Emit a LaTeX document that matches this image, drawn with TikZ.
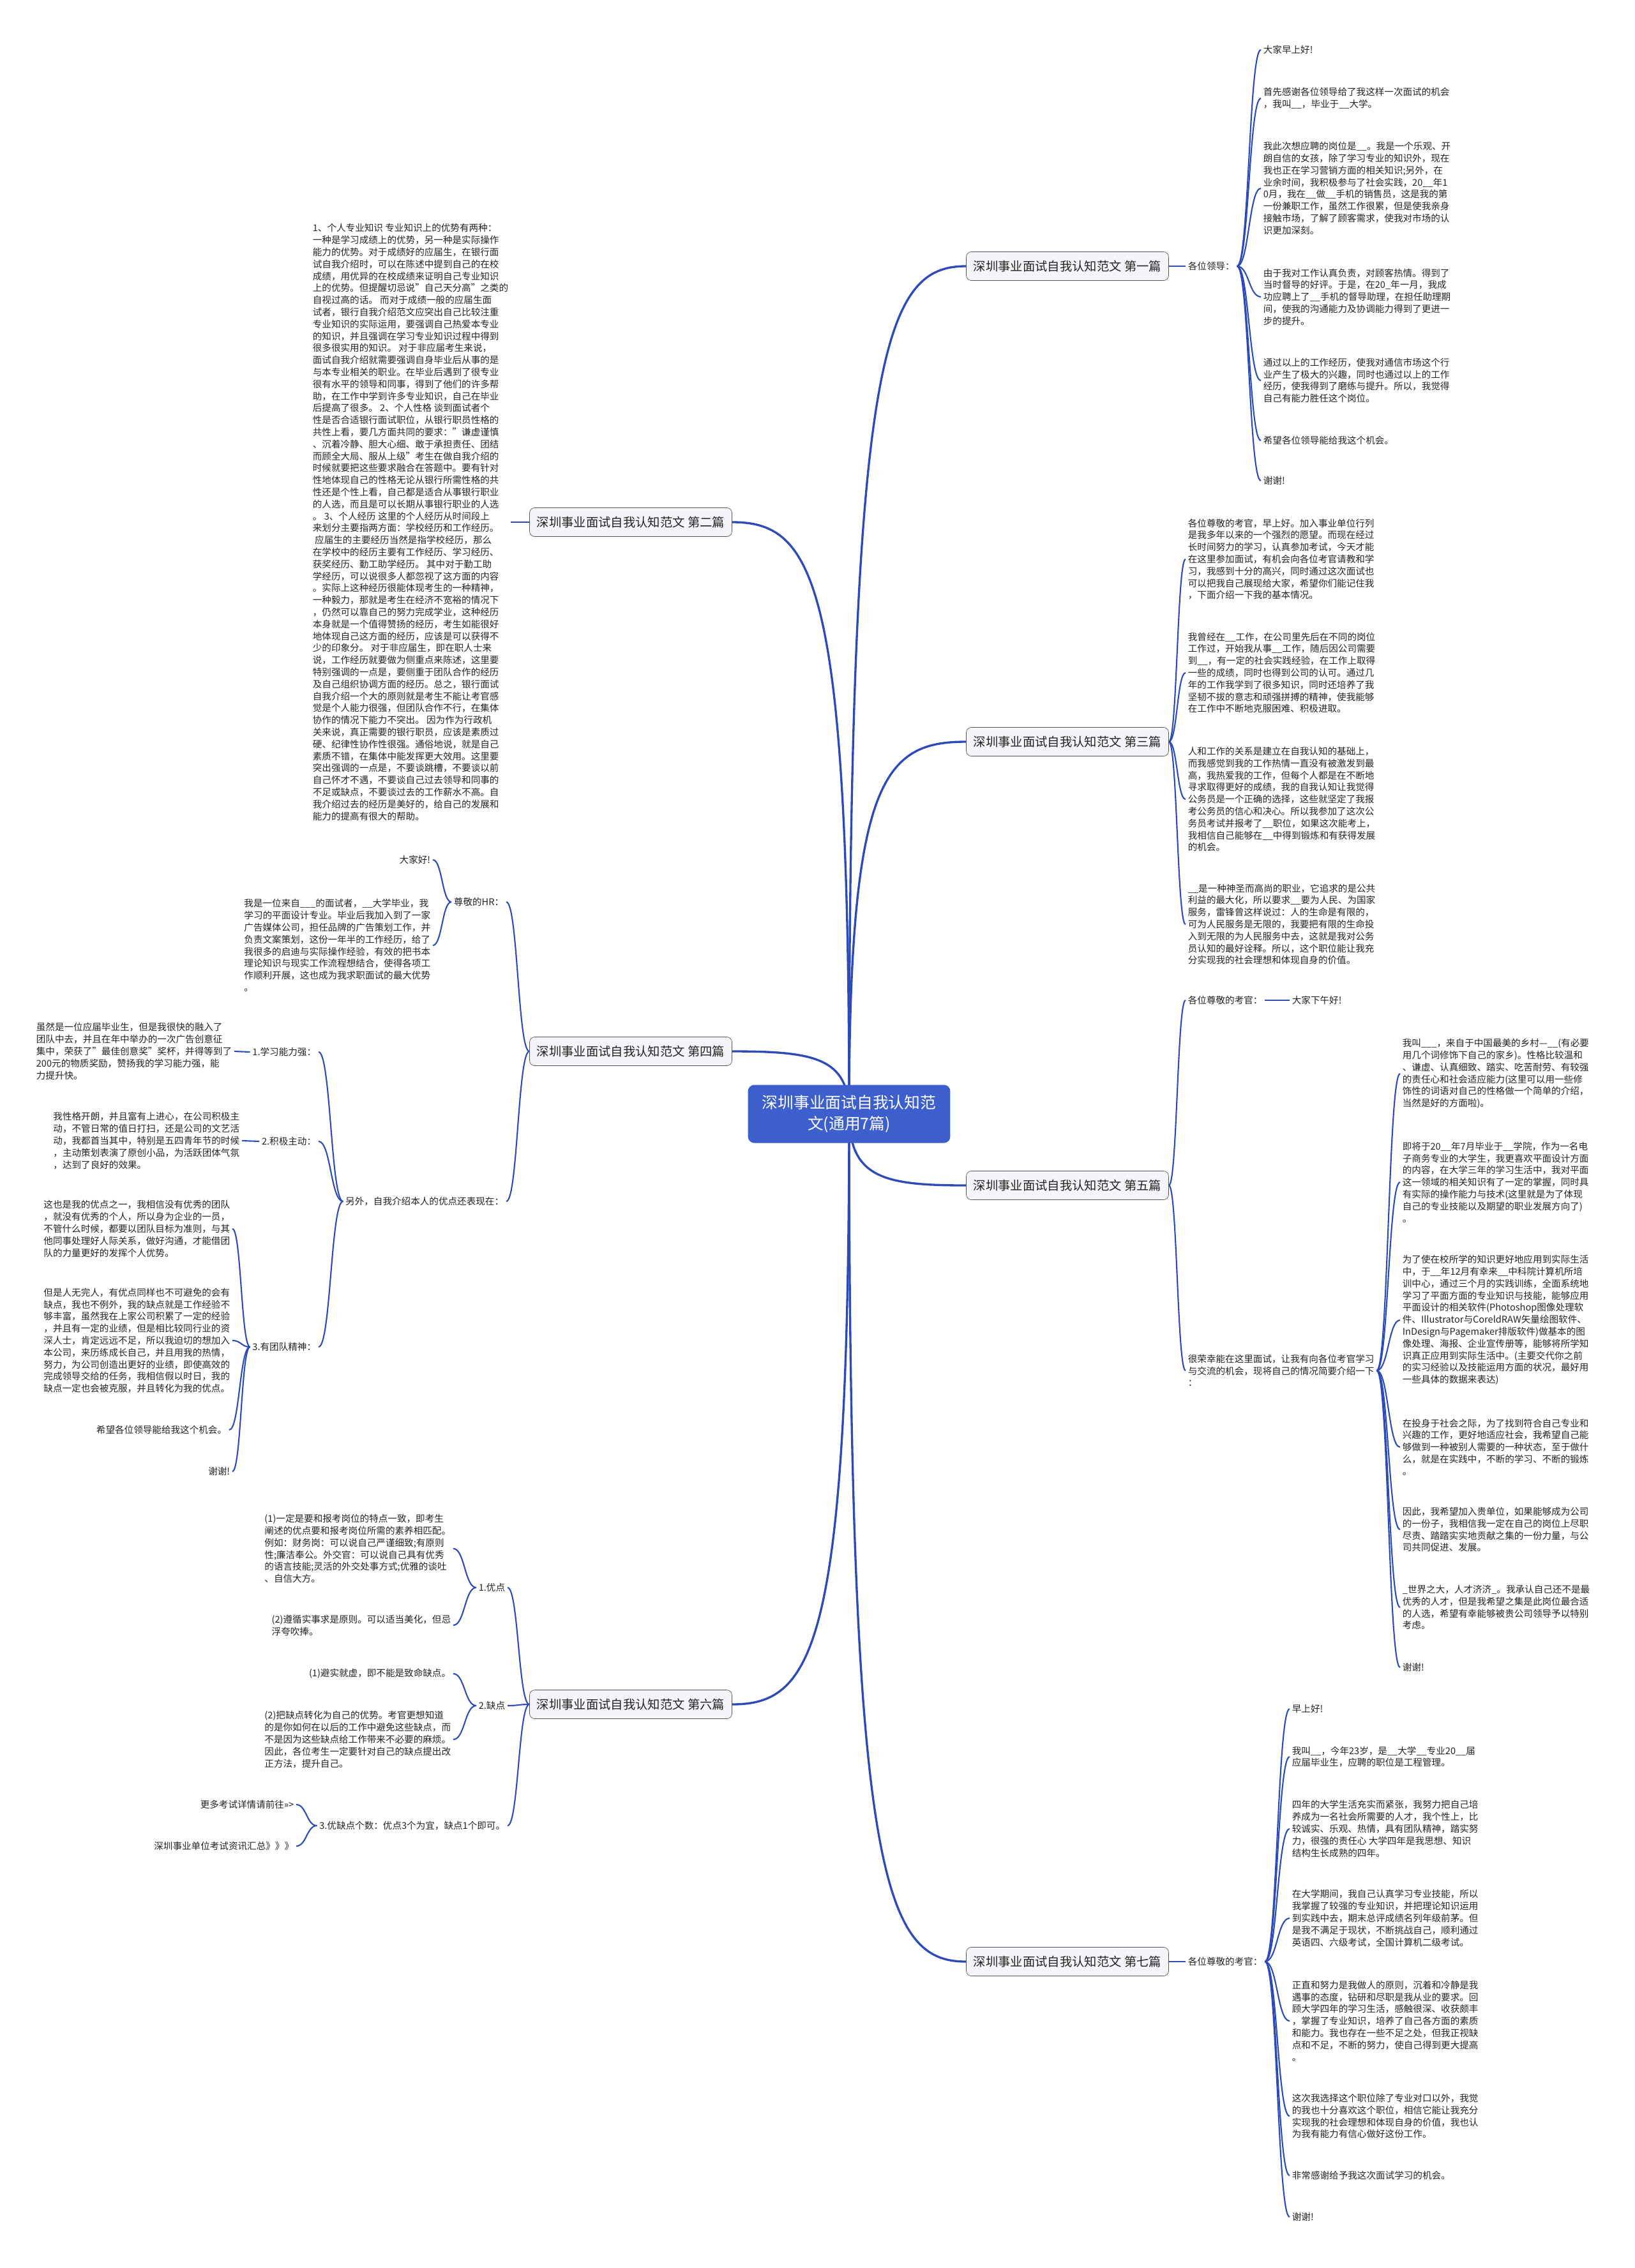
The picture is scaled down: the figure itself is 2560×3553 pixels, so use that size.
\documentclass[tikz,border=0pt]{standalone}
\usepackage{fontspec}
\setmainfont{Noto Sans CJK SC}
\usetikzlibrary{calc,backgrounds}

\definecolor{linkblue}{RGB}{44,74,184}
\definecolor{rootblue}{RGB}{60,95,205}
\definecolor{boxgray}{RGB}{85,85,85}
\definecolor{boxfill}{RGB}{243,245,248}
\definecolor{txtgray}{RGB}{35,35,35}

\begin{document}
\begin{tikzpicture}[x=0.02cm, y=-0.02cm,
  every node/.style={text=txtgray},
  rootbox/.style={fill=rootblue, text=white, rounded corners=0.2cm,
    minimum width=6.34cm, minimum height=1.82cm, align=center, font=\fontsize{14.1}{19.3}\selectfont},
  topic/.style={draw=boxgray, fill=boxfill, rounded corners=0.16cm, minimum width=6.34cm,
    minimum height=0.9cm, font=\fontsize{11}{13}\selectfont},
  leaf/.style={inner sep=2pt, align=left, font=\fontsize{8.3}{10.7}\selectfont},
  rtxt/.style={leaf, anchor=west},
  ltxt/.style={leaf, anchor=east},
  link/.style={draw=linkblue, line width=1.2pt, to path={let \p1=(\tikztostart), \p2=(\tikztotarget) in
    .. controls ({(\x1+\x2)/2},\y1) and ({(\x1+\x2)/2},\y2) .. (\tikztotarget)}},
  trunk/.style={draw=linkblue, line width=1.9pt, to path={let \p1=(\tikztostart), \p2=(\tikztotarget) in
    .. controls (\x1,{\y1+0.9*(\y2-\y1)}) and ({\x1+0.3*(\x2-\x1)},\y2) .. (\tikztotarget)}}]
\useasboundingbox (0,0) rectangle (2560,3553);

% Root
\node[rootbox] (root) at (1330,1745) {深圳事业面试自我认知范\\文(通用7篇)};

% Level 1
\node[topic] (p1) at (1672,417) {深圳事业面试自我认知范文 第一篇};
\node[topic] (p2) at (988,818) {深圳事业面试自我认知范文 第二篇};
\node[topic] (p3) at (1672,1162) {深圳事业面试自我认知范文 第三篇};
\node[topic] (p4) at (988,1647) {深圳事业面试自我认知范文 第四篇};
\node[topic] (p5) at (1672,1857) {深圳事业面试自我认知范文 第五篇};
\node[topic] (p6) at (988,2670) {深圳事业面试自我认知范文 第六篇};
\node[topic] (p7) at (1672,3073) {深圳事业面试自我认知范文 第七篇};

% Part 1
\node[rtxt] (k1) at (1857,417) {各位领导：};
\node[rtxt] (p1a) at (1975,78) {大家早上好!};
\node[rtxt] (p1b) at (1975,154) {首先感谢各位领导给了我这样一次面试的机会\\，我叫\_\_，毕业于\_\_大学。};
\node[rtxt] (p1c) at (1975,295) {我此次想应聘的岗位是\_\_。我是一个乐观、开\\朗自信的女孩，除了学习专业的知识外，现在\\我也正在学习营销方面的相关知识;另外，在\\业余时间，我积极参与了社会实践，20\_\_年1\\0月，我在\_\_做\_\_手机的销售员，这是我的第\\一份兼职工作，虽然工作很累，但是使我亲身\\接触市场，了解了顾客需求，使我对市场的认\\识更加深刻。};
\node[rtxt] (p1d) at (1975,465) {由于我对工作认真负责，对顾客热情。得到了\\当时督导的好评。于是，在20\_年一月，我成\\功应聘上了\_\_手机的督导助理，在担任助理期\\间，使我的沟通能力及协调能力得到了更进一\\步的提升。};
\node[rtxt] (p1e) at (1975,596) {通过以上的工作经历，使我对通信市场这个行\\业产生了极大的兴趣，同时也通过以上的工作\\经历，使我得到了磨练与提升。所以，我觉得\\自己有能力胜任这个岗位。};
\node[rtxt] (p1f) at (1975,690) {希望各位领导能给我这个机会。};
\node[rtxt] (p1g) at (1975,753) {谢谢!};

% Part 2
\node[ltxt] (p2a) at (800,818) {1、个人专业知识 专业知识上的优势有两种：\\一种是学习成绩上的优势，另一种是实际操作\\能力的优势。对于成绩好的应届生，在银行面\\试自我介绍时，可以在陈述中提到自己的在校\\成绩，用优异的在校成绩来证明自己专业知识\\上的优势。但提醒切忌说"自己天分高"之类的\\自视过高的话。 而对于成绩一般的应届生面\\试者，银行自我介绍范文应突出自己比较注重\\专业知识的实际运用，要强调自己热爱本专业\\的知识，并且强调在学习专业知识过程中得到\\很多很实用的知识。 对于非应届考生来说，\\面试自我介绍就需要强调自身毕业后从事的是\\与本专业相关的职业。在毕业后遇到了很专业\\很有水平的领导和同事，得到了他们的许多帮\\助，在工作中学到许多专业知识，自己在毕业\\后提高了很多。 2、个人性格 谈到面试者个\\性是否合适银行面试职位，从银行职员性格的\\共性上看，要几方面共同的要求："谦虚谨慎\\、沉着冷静、胆大心细、敢于承担责任、团结\\而顾全大局、服从上级"考生在做自我介绍的\\时候就要把这些要求融合在答题中。要有针对\\性地体现自己的性格无论从银行所需性格的共\\性还是个性上看，自己都是适合从事银行职业\\的人选，而且是可以长期从事银行职业的人选\\。 3、个人经历 这里的个人经历从时间段上\\来划分主要指两方面：学校经历和工作经历。\\ \ 应届生的主要经历当然是指学校经历，那么\\在学校中的经历主要有工作经历、学习经历、\\获奖经历、勤工助学经历。 其中对于勤工助\\学经历，可以说很多人都忽视了这方面的内容\\。实际上这种经历很能体现考生的一种精神，\\一种毅力，那就是考生在经济不宽裕的情况下\\，仍然可以靠自己的努力完成学业，这种经历\\本身就是一个值得赞扬的经历，考生如能很好\\地体现自己这方面的经历，应该是可以获得不\\少的印象分。 对于非应届生，即在职人士来\\说，工作经历就要做为侧重点来陈述，这里要\\特别强调的一点是，要侧重于团队合作的经历\\及自己组织协调方面的经历。总之，银行面试\\自我介绍一个大的原则就是考生不能让考官感\\觉是个人能力很强，但团队合作不行，在集体\\协作的情况下能力不突出。 因为作为行政机\\关来说，真正需要的银行职员，应该是素质过\\硬、纪律性协作性很强。通俗地说，就是自己\\素质不错，在集体中能发挥更大效用。这里要\\突出强调的一点是，不要谈跳槽，不要谈以前\\自己怀才不遇，不要谈自己过去领导和同事的\\不足或缺点，不要谈过去的工作薪水不高。自\\我介绍过去的经历是美好的，给自己的发展和\\能力的提高有很大的帮助。};

% Part 3
\node[rtxt] (p3a) at (1857,876) {各位尊敬的考官，早上好。加入事业单位行列\\是我多年以来的一个强烈的愿望。而现在经过\\长时间努力的学习，认真参加考试，今天才能\\在这里参加面试，有机会向各位考官请教和学\\习，我感到十分的高兴，同时通过这次面试也\\可以把我自己展现给大家，希望你们能记住我\\，下面介绍一下我的基本情况。};
\node[rtxt] (p3b) at (1857,1054) {我曾经在\_\_工作，在公司里先后在不同的岗位\\工作过，开始我从事\_\_工作，随后因公司需要\\到\_\_，有一定的社会实践经验，在工作上取得\\一些的成绩，同时也得到公司的认可。通过几\\年的工作我学到了很多知识，同时还培养了我\\坚韧不拔的意志和顽强拼搏的精神，使我能够\\在工作中不断地克服困难、积极进取。};
\node[rtxt] (p3c) at (1857,1252) {人和工作的关系是建立在自我认知的基础上，\\而我感觉到我的工作热情一直没有被激发到最\\高，我热爱我的工作，但每个人都是在不断地\\寻求取得更好的成绩，我的自我认知让我觉得\\公务员是一个正确的选择，这些就坚定了我报\\考公务员的信心和决心。所以我参加了这次公\\务员考试并报考了\_\_职位，如果这次能考上，\\我相信自己能够在\_\_中得到锻炼和有获得发展\\的机会。};
\node[rtxt] (p3d) at (1857,1448) {\_\_是一种神圣而高尚的职业，它追求的是公共\\利益的最大化，所以要求\_\_要为人民、为国家\\服务，雷锋曾这样说过：人的生命是有限的，\\可为人民服务是无限的，我要把有限的生命投\\入到无限的为人民服务中去，这就是我对公务\\员认知的最好诠释。所以，这个职位能让我充\\分实现我的社会理想和体现自身的价值。};

% Part 4
\node[ltxt] (k4a) at (793,1413) {尊敬的HR：};
\node[ltxt] (p4a) at (678,1347) {大家好!};
\node[ltxt] (p4b) at (678,1481) {我是一位来自\_\_\_的面试者，\_\_大学毕业，我\\学习的平面设计专业。毕业后我加入到了一家\\广告媒体公司，担任品牌的广告策划工作，并\\负责文案策划，这份一年半的工作经历，给了\\我很多的启迪与实际操作经验，有效的把书本\\理论知识与现实工作流程想结合，使得各项工\\作顺利开展，这也成为我求职面试的最大优势\\。};
\node[ltxt] (k4b) at (793,1882) {另外，自我介绍本人的优点还表现在：};
\node[ltxt] (q1) at (499,1648) {1.学习能力强：};
\node[ltxt] (q2) at (499,1788) {2.积极主动：};
\node[ltxt] (q3) at (499,2110) {3.有团队精神：};
\node[ltxt] (q1a) at (367,1647) {虽然是一位应届毕业生，但是我很快的融入了\\团队中去，并且在年中举办的一次广告创意征\\集中，荣获了"最佳创意奖"奖杯，并得等到了\\200元的物质奖励，赞扬我的学习能力强，能\\力提升快。};
\node[ltxt] (q2a) at (379,1787) {我性格开朗，并且富有上进心，在公司积极主\\动，不管日常的值日打扫，还是公司的文艺活\\动，我都首当其中，特别是五四青年节的时候\\，主动策划表演了原创小品，为活跃团体气氛\\，达到了良好的效果。};
\node[ltxt] (q3a) at (364,1925) {这也是我的优点之一，我相信没有优秀的团队\\，就没有优秀的个人，所以身为企业的一员，\\不管什么时候，都要以团队目标为准则，与其\\他同事处理好人际关系，做好沟通，才能借团\\队的力量更好的发挥个人优势。};
\node[ltxt] (q3b) at (364,2100) {但是人无完人，有优点同样也不可避免的会有\\缺点，我也不例外，我的缺点就是工作经验不\\够丰富，虽然我在上家公司积累了一定的经验\\，并且有一定的业绩，但是相比较同行业的资\\深人士，肯定远远不足，所以我迫切的想加入\\本公司，来历练成长自己，并且用我的热情，\\努力，为公司创造出更好的业绩，即使高效的\\完成领导交给的任务，我相信假以时日，我的\\缺点一定也会被克服，并且转化为我的优点。};
\node[ltxt] (q3c) at (359,2240) {希望各位领导能给我这个机会。};
\node[ltxt] (q3d) at (364,2305) {谢谢!};

% Part 5
\node[rtxt] (k5a) at (1857,1567) {各位尊敬的考官：};
\node[rtxt] (p5x) at (2020,1567) {大家下午好!};
\node[rtxt] (k5b) at (1857,2147) {很荣幸能在这里面试，让我有向各位考官学习\\与交流的机会，现将自己的情况简要介绍一下\\：};
\node[rtxt] (p5a) at (2193,1682) {我叫\_\_\_，来自于中国最美的乡村—\_\_(有必要\\用几个词修饰下自己的家乡)。性格比较温和\\、谦虚、认真细致、踏实、吃苦耐劳、有较强\\的责任心和社会适应能力(这里可以用一些修\\饰性的词语对自己的性格做一个简单的介绍，\\当然是好的方面啦)。};
\node[rtxt] (p5b) at (2193,1852) {即将于20\_\_年7月毕业于\_\_学院，作为一名电\\子商务专业的大学生，我更喜欢平面设计方面\\的内容，在大学三年的学习生活中，我对平面\\这一领域的相关知识有了一定的掌握，同时具\\有实际的操作能力与技术(这里就是为了体现\\自己的专业技能以及期望的职业发展方向了)\\。};
\node[rtxt] (p5c) at (2193,2068) {为了使在校所学的知识更好地应用到实际生活\\中，于\_\_年12月有幸来\_\_中科院计算机所培\\训中心，通过三个月的实践训练，全面系统地\\学习了平面方面的专业知识与技能，能够应用\\平面设计的相关软件(Photoshop图像处理软\\件、Illustrator与CoreldRAW矢量绘图软件、\\InDesign与Pagemaker排版软件)做基本的图\\像处理、海报、企业宣传册等，能够将所学知\\识真正应用到实际生活中。(主要交代你之前\\的实习经验以及技能运用方面的状况，最好用\\一些具体的数据来表达)};
\node[rtxt] (p5d) at (2193,2267) {在投身于社会之际，为了找到符合自己专业和\\兴趣的工作，更好地适应社会，我希望自己能\\够做到一种被别人需要的一种状态，至于做什\\么，就是在实践中，不断的学习、不断的锻炼\\。};
\node[rtxt] (p5e) at (2193,2396) {因此，我希望加入贵单位，如果能够成为公司\\的一份子，我相信我一定在自己的岗位上尽职\\尽责、踏踏实实地贡献之集的一份力量，与公\\司共同促进、发展。};
\node[rtxt] (p5f) at (2193,2518) {\_世界之大，人才济济\_。我承认自己还不是最\\优秀的人才，但是我希望之集是此岗位最合适\\的人选，希望有幸能够被贵公司领导予以特别\\考虑。};
\node[rtxt] (p5g) at (2193,2612) {谢谢!};

% Part 6
\node[ltxt] (r1) at (795,2487) {1.优点};
\node[ltxt] (r2) at (795,2672) {2.缺点};
\node[ltxt] (r3) at (795,2860) {3.优缺点个数：优点3个为宜，缺点1个即可。};
\node[ltxt] (r1a) at (710,2426) {(1)一定是要和报考岗位的特点一致，即考生\\阐述的优点要和报考岗位所需的素养相匹配。\\例如：财务岗：可以说自己严谨细致;有原则\\性;廉洁奉公。外交官：可以说自己具有优秀\\的语言技能;灵活的外交处事方式;优雅的谈吐\\、自信大方。};
\node[ltxt] (r1b) at (710,2546) {(2)遵循实事求是原则。可以适当美化，但忌\\浮夸吹捧。};
\node[ltxt] (r2a) at (710,2622) {(1)避实就虚，即不能是致命缺点。};
\node[ltxt] (r2b) at (710,2725) {(2)把缺点转化为自己的优势。考官更想知道\\的是你如何在以后的工作中避免这些缺点，而\\不是因为这些缺点给工作带来不必要的麻烦。\\因此，各位考生一定要针对自己的缺点提出改\\正方法，提升自己。};
\node[ltxt] (r3a) at (464,2827) {更多考试详情请前往>>>};
\node[ltxt] (r3b) at (464,2892) {深圳事业单位考试资讯汇总》》》};

% Part 7
\node[rtxt] (k7) at (1857,3073) {各位尊敬的考官：};
\node[rtxt] (p7a) at (2020,2677) {早上好!};
\node[rtxt] (p7b) at (2020,2752) {我叫\_\_，今年23岁，是\_\_大学\_\_专业20\_\_届\\应届毕业生，应聘的职位是工程管理。};
\node[rtxt] (p7c) at (2020,2865) {四年的大学生活充实而紧张，我努力把自己培\\养成为一名社会所需要的人才，我个性上，比\\较诚实、乐观、热情，具有团队精神，踏实努\\力，很强的责任心 大学四年是我思想、知识\\结构生长成熟的四年。};
\node[rtxt] (p7d) at (2020,3005) {在大学期间，我自己认真学习专业技能，所以\\我掌握了较强的专业知识，并把理论知识运用\\到实践中去，期末总评成绩名列年级前茅。但\\是我不满足于现状，不断挑战自己，顺利通过\\英语四、六级考试，全国计算机二级考试。};
\node[rtxt] (p7e) at (2020,3166) {正直和努力是我做人的原则，沉着和冷静是我\\遇事的态度，钻研和尽职是我从业的要求。回\\顾大学四年的学习生活，感触很深、收获颇丰\\，掌握了专业知识，培养了自己各方面的素质\\和能力。我也存在一些不足之处，但我正视缺\\点和不足，不断的努力，使自己得到更大提高\\。};
\node[rtxt] (p7f) at (2020,3315) {这次我选择这个职位除了专业对口以外，我觉\\的我也十分喜欢这个职位，相信它能让我充分\\实现我的社会理想和体现自身的价值，我也认\\为我有能力有信心做好这份工作。};
\node[rtxt] (p7g) at (2020,3408) {非常感谢给予我这次面试学习的机会。};
\node[rtxt] (p7h) at (2020,3473) {谢谢!};

% Connectors
\begin{scope}[on background layer]
  \foreach \b in {p1,p3,p5,p7} \draw[trunk] (root.center) to (\b.west);
  \foreach \b in {p2,p4,p6} \draw[trunk] (root.center) to (\b.east);
  % right side
  \draw[link] (p1.east) to (k1.west);
  \foreach \m in {a,b,c,d,e,f,g} \draw[link] (k1.east) to (p1\m.west);
  \foreach \m in {a,b,c,d} \draw[link] (p3.east) to (p3\m.west);
  \draw[link] (p5.east) to (k5a.west);
  \draw[link] (p5.east) to (k5b.west);
  \draw[link] (k5a.east) to (p5x.west);
  \foreach \m in {a,b,c,d,e,f,g} \draw[link] (k5b.east) to (p5\m.west);
  \draw[link] (p7.east) to (k7.west);
  \foreach \m in {a,b,c,d,e,f,g,h} \draw[link] (k7.east) to (p7\m.west);
  % left side
  \draw[link] (p2.west) to (p2a.east);
  \draw[link] (p4.west) to (k4a.east);
  \draw[link] (p4.west) to (k4b.east);
  \draw[link] (k4a.west) to (p4a.east);
  \draw[link] (k4a.west) to (p4b.east);
  \foreach \m in {1,2,3} \draw[link] (k4b.west) to (q\m.east);
  \draw[link] (q1.west) to (q1a.east);
  \draw[link] (q2.west) to (q2a.east);
  \foreach \m in {a,b,c,d} \draw[link] (q3.west) to (q3\m.east);
  \foreach \m in {1,2,3} \draw[link] (p6.west) to (r\m.east);
  \draw[link] (r1.west) to (r1a.east);
  \draw[link] (r1.west) to (r1b.east);
  \draw[link] (r2.west) to (r2a.east);
  \draw[link] (r2.west) to (r2b.east);
  \draw[link] (r3.west) to (r3a.east);
  \draw[link] (r3.west) to (r3b.east);
\end{scope}
\end{tikzpicture}
\end{document}
